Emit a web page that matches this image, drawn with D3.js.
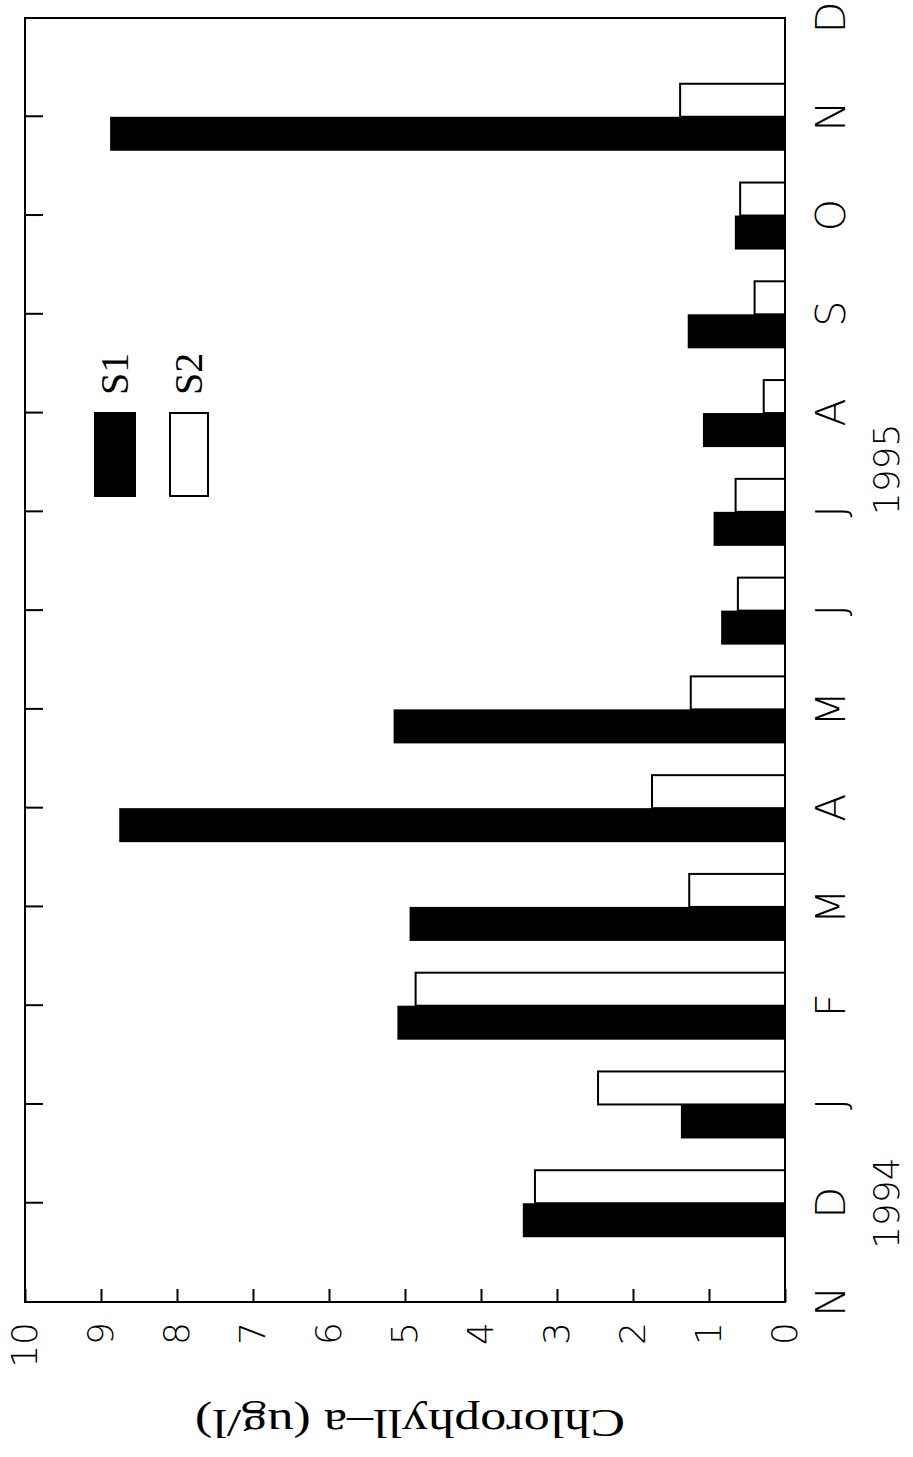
<!DOCTYPE html>
<html>
<head>
<meta charset="utf-8">
<script src="https://cdn.jsdelivr.net/npm/d3@7"></script>
<style>
  html, body { margin: 0; padding: 0; background: #fff; }
  svg { display: block; }
  .sans { font-family: "DejaVu Sans", "Liberation Sans", sans-serif; font-weight: 200; }
  .serif { font-family: "Liberation Serif", "DejaVu Serif", serif; }
</style>
</head>
<body>
<svg id="chart" width="913" height="1457"></svg>
<script>
// Monthly chlorophyll-a at stations S1 and S2, Nov 1994 - Dec 1995
const monthLabels = ["N", "D", "J", "F", "M", "A", "M", "J", "J", "A", "S", "O", "N", "D"];
const barMonths = [1, 2, 3, 4, 5, 6, 7, 8, 9, 10, 11, 12]; // D .. N
const s1Values = [3.45, 1.37, 5.10, 4.94, 8.76, 5.15, 0.84, 0.94, 1.08, 1.28, 0.66, 8.88];
const s2Values = [3.29, 2.46, 4.86, 1.26, 1.75, 1.24, 0.62, 0.65, 0.28, 0.40, 0.59, 1.38];
const valueTicks = [0, 1, 2, 3, 4, 5, 6, 7, 8, 9, 10];
const seriesNames = ["S1", "S2"];
const yearLabels = [{ text: "1994", at: 1 }, { text: "1995", at: 8.43 }];
const axisTitle = "Chlorophyll\u2013a (ug/l)";

const W = 913, H = 1457;
// The chart is laid out landscape (width H, height W) and turned a quarter turn.
const svg = d3.select("#chart");
const g = svg.append("g").attr("transform", `translate(0,${H}) rotate(-90)`);

const plot = { left: 155, right: 1439, top: 25, bottom: 785 };

const x = d3.scaleLinear().domain([0, monthLabels.length - 1]).range([plot.left, plot.right]);
const y = d3.scaleLinear().domain([0, 10]).range([plot.bottom, plot.top]);

const barW = 34;

// bars
const rows = barMonths.map((m, i) => ({ m, s1: s1Values[i], s2: s2Values[i] }));
g.selectAll("rect.s1").data(rows).join("rect")
  .attr("class", "s1")
  .attr("x", d => x(d.m) - barW)
  .attr("width", barW)
  .attr("y", d => y(d.s1))
  .attr("height", d => y(0) - y(d.s1))
  .attr("fill", "#000");
g.selectAll("rect.s2").data(rows).join("rect")
  .attr("class", "s2")
  .attr("x", d => x(d.m))
  .attr("width", barW - 1)
  .attr("y", d => y(d.s2))
  .attr("height", d => y(0) - y(d.s2))
  .attr("fill", "#fff")
  .attr("stroke", "#000")
  .attr("stroke-width", 2);

// frame
g.append("rect")
  .attr("x", plot.left).attr("y", plot.top)
  .attr("width", plot.right - plot.left).attr("height", plot.bottom - plot.top)
  .attr("fill", "none").attr("stroke", "#000").attr("stroke-width", 2);

// value axis
const yAxis = g.append("g")
  .attr("transform", `translate(${plot.left},0)`)
  .call(d3.axisLeft(y).tickValues(valueTicks).tickSize(-13).tickPadding(20).tickFormat(d3.format("d")));
yAxis.select(".domain").remove();
yAxis.selectAll("line").attr("stroke", "#000").attr("stroke-width", 2);
yAxis.selectAll("text").attr("class", "sans").attr("font-size", 36).attr("fill", "#000");

// month axis labels
const xAxis = g.append("g")
  .attr("transform", `translate(0,${plot.bottom})`)
  .call(d3.axisBottom(x).tickValues(d3.range(monthLabels.length)).tickSize(0).tickPadding(31)
    .tickFormat(i => monthLabels[i]));
xAxis.select(".domain").remove();
xAxis.selectAll("text").attr("class", "sans").attr("font-size", 41).attr("fill", "#000");

// month ticks along the top edge
const xTop = g.append("g")
  .attr("transform", `translate(0,${plot.top})`)
  .call(d3.axisTop(x).tickValues(d3.range(1, monthLabels.length - 1)).tickSize(-18).tickFormat(""));
xTop.select(".domain").remove();
xTop.selectAll("line").attr("stroke", "#000").attr("stroke-width", 2);

// year labels
g.selectAll("text.year").data(yearLabels).join("text")
  .attr("class", "year sans")
  .attr("x", d => x(d.at))
  .attr("y", 899)
  .attr("text-anchor", "middle")
  .attr("font-size", 36)
  .text(d => d.text);

// axis title
g.append("text")
  .attr("class", "serif")
  .attr("transform", `translate(47,410) rotate(-90)`)
  .attr("text-anchor", "middle")
  .attr("font-size", 40)
  .attr("textLength", 430)
  .attr("lengthAdjust", "spacingAndGlyphs")
  .text(axisTitle);

// legend
const legend = [
  { name: seriesNames[0], fill: "#000", y0: 95, y1: 135, ty: 128 },
  { name: seriesNames[1], fill: "#fff", y0: 170, y1: 208, ty: 202 }
];
const lg = g.append("g");
lg.selectAll("rect").data(legend).join("rect")
  .attr("x", 961).attr("width", 83)
  .attr("y", d => d.y0).attr("height", d => d.y1 - d.y0)
  .attr("fill", d => d.fill)
  .attr("stroke", "#000").attr("stroke-width", 2);
lg.selectAll("text").data(legend).join("text")
  .attr("class", "serif")
  .attr("x", 1062).attr("y", d => d.ty)
  .attr("font-size", 40)
  .text(d => d.name);
</script>
</body>
</html>
